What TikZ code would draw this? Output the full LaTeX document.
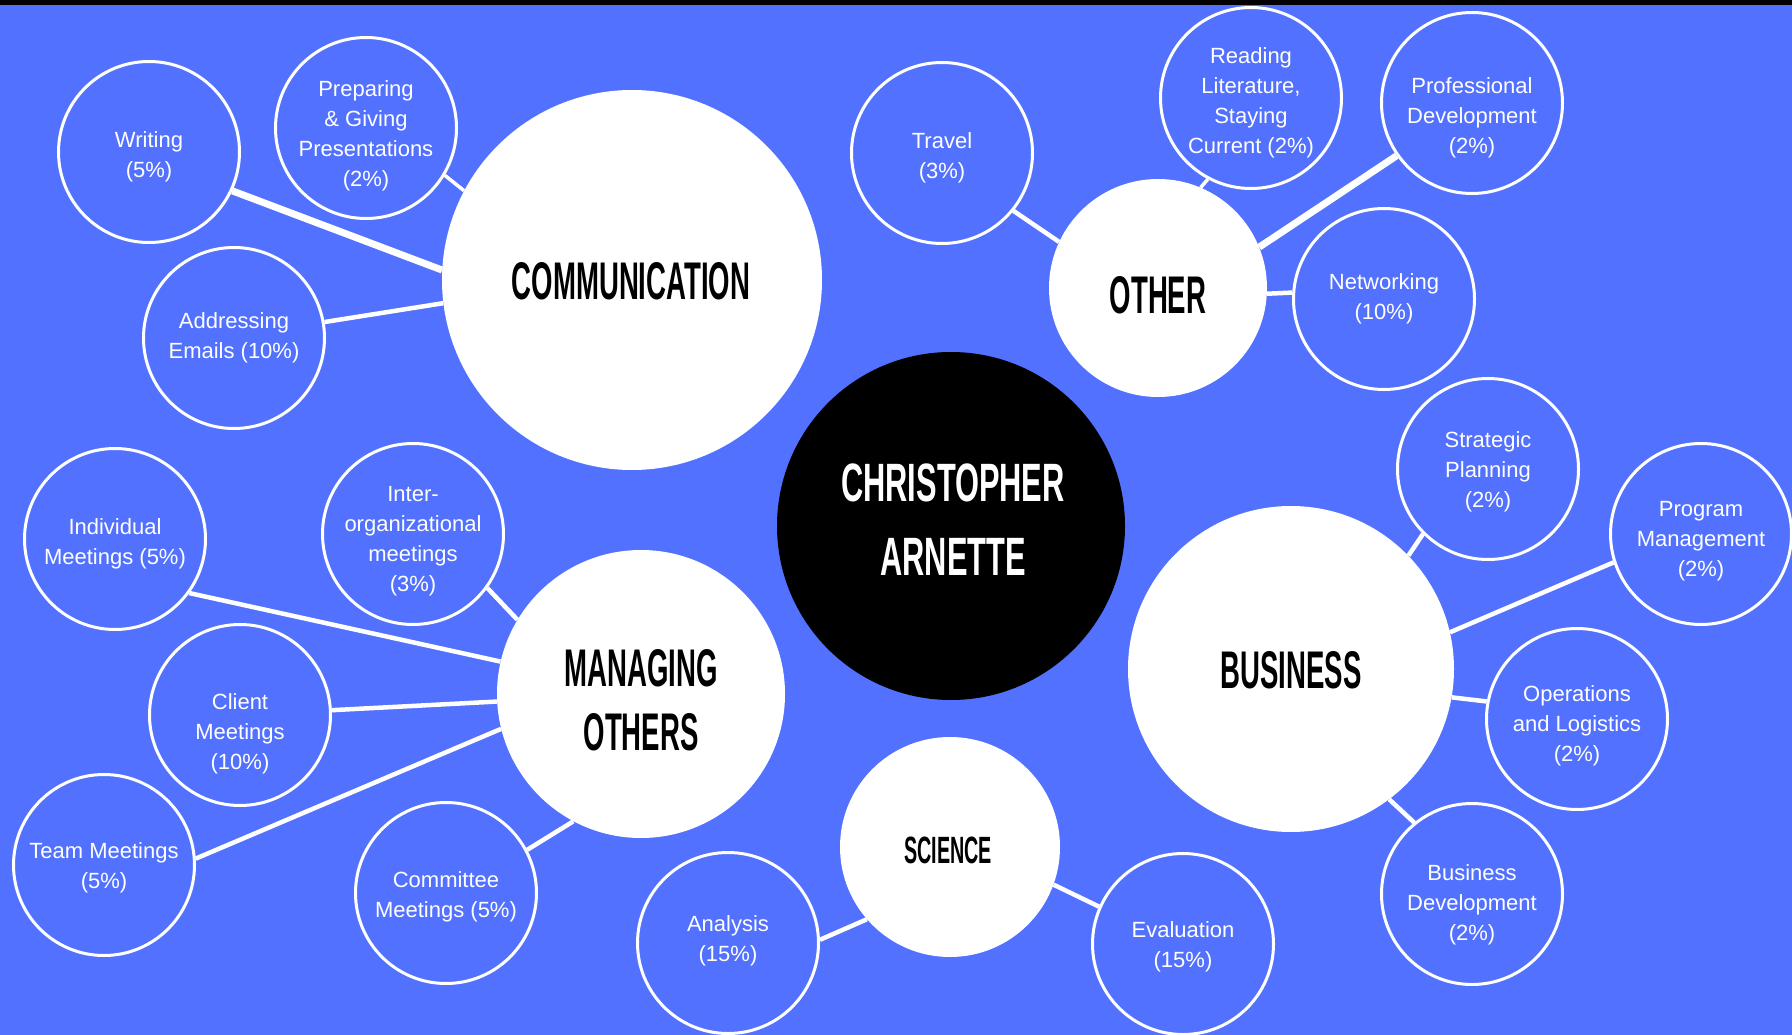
\documentclass[tikz,border=0pt]{standalone}
\usepackage{fontspec}
\setmainfont{Liberation Sans}
\newfontfamily\headfont[FakeStretch=0.52,BoldFont={Liberation Sans Bold}]{Liberation Sans}
\newfontfamily\namefont[FakeStretch=0.57,BoldFont={Liberation Sans Bold}]{Liberation Sans}
\definecolor{bgblue}{RGB}{82,113,255}
\pgfdeclarelayer{bg}
\pgfdeclarelayer{lines}
\pgfsetlayers{bg,lines,main}
\tikzset{
  small/.style={circle, draw=white, line width=3pt, fill=bgblue, minimum size=181pt, inner sep=0pt},
  smalltxt/.style={inner sep=0pt, align=center, text=white, font=\fontsize{22}{30}\selectfont},
  bigw/.style={circle, fill=white, inner sep=0pt},
  bigtxt/.style={inner sep=0pt, align=center, text=black,
    font=\headfont\bfseries\fontsize{53}{74}\selectfont},
  link/.style={draw=white, line width=4.5pt},
  thinlink/.style={draw=white, line width=3.5pt},
  thicklink/.style={draw=white, line width=7pt}
}
% #1 name, #2 position, #3 vertical text shift (down, px), #4 text
\newcommand\smallcirc[4]{%
  \node[small] (#1) at #2 {};
  \node[smalltxt] (#1-t) at ([yshift=-#3pt]#1.center) {#4};}
\begin{document}
\begin{tikzpicture}[x=1pt,y=-1pt]
\useasboundingbox (0,0) rectangle (1792,1035);
\begin{pgfonlayer}{bg}
\fill[bgblue] (0,0) rectangle (1792,1035);
\fill[black] (0,0) rectangle (1792,5);
\end{pgfonlayer}

% main circles
\node[bigw, minimum size=380pt] (comm) at (632,280) {};
\node[bigtxt] (comm-t) at (631,281) {COMMUNICATION};
\node[bigw, minimum size=218pt] (other) at (1158,288) {};
\node[bigtxt] (other-t) at (1158,295) {OTHER};
\node[bigw, minimum size=348pt, fill=black] (chris) at (951,526) {};
\node[bigtxt, text=white, font=\namefont\bfseries\fontsize{54}{74}\selectfont] (chris-t) at (953,520) {CHRISTOPHER\\ARNETTE};
\node[bigw, minimum size=288pt] (mo) at (641,694) {};
\node[bigtxt, font=\headfont\bfseries\fontsize{53}{64}\selectfont] (mo-t) at (641,700) {MANAGING\\OTHERS};
\node[bigw, minimum size=326pt] (bus) at (1291,669) {};
\node[bigtxt] (bus-t) at (1291,670) {BUSINESS};
\node[bigw, minimum size=220pt] (sci) at (950,847) {};
\node[bigtxt, font=\headfont\bfseries\fontsize{38}{48}\selectfont] (sci-t) at (948,850) {SCIENCE};

% small circles
\smallcirc{writing}{(149,152)}{5}{Writing\\(5\%)}
\smallcirc{prep}{(366,128)}{8}{Preparing\\\& Giving\\Presentations\\(2\%)}
\smallcirc{email}{(234,338)}{0}{Addressing\\Emails (10\%)}
\smallcirc{travel}{(942,153)}{5}{Travel\\(3\%)}
\smallcirc{read}{(1251,98)}{5}{Reading\\Literature,\\Staying\\Current (2\%)}
\smallcirc{prof}{(1472,103)}{15}{Professional\\Development\\(2\%)}
\smallcirc{net}{(1384,299)}{0}{Networking\\(10\%)}
\smallcirc{strat}{(1488,469)}{3}{Strategic\\Planning\\(2\%)}
\smallcirc{prog}{(1701,534)}{7}{Program\\Management\\(2\%)}
\smallcirc{ops}{(1577,719)}{7}{Operations\\and Logistics\\(2\%)}
\smallcirc{busdev}{(1472,894)}{11}{Business\\Development\\(2\%)}
\smallcirc{eval}{(1183,944)}{3}{Evaluation\\(15\%)}
\smallcirc{anal}{(728,943)}{-2}{Analysis\\(15\%)}
\smallcirc{comt}{(446,893)}{4}{Committee\\Meetings (5\%)}
\smallcirc{team}{(104,865)}{3}{Team Meetings\\(5\%)}
\smallcirc{client}{(240,715)}{19}{Client\\Meetings\\(10\%)}
\smallcirc{indiv}{(115,539)}{5}{Individual\\Meetings (5\%)}
\smallcirc{inter}{(413,534)}{7}{Inter-\\organizational\\meetings\\(3\%)}

% connectors
\begin{pgfonlayer}{lines}
\draw[thicklink] (writing.-25) -- (comm.177);
\draw[thinlink] (prep.-31) -- (comm.152);
\draw[link] (email.10) -- (comm.187);
\draw[link] (travel.-39) -- (other.155);
\draw[thinlink] (read.-118) -- (other.67);
\draw[thicklink] (prof.-145) -- (other.22);
\draw[link] (net.176) -- (other.-3);
\draw[link] (strat.-135) -- (bus.44);
\draw[link] (prog.-162) -- (bus.13.5);
\draw[link] (ops.169) -- (bus.-10);
\draw[link] (busdev.129) -- (bus.-53);
\draw[link] (eval.156) -- (sci.-20);
\draw[link] (anal.2) -- (sci.221);
\draw[link] (inter.-36) -- (mo.149);
\draw[link] (indiv.-36) -- (mo.167);
\draw[link] (client.3) -- (mo.183);
\draw[link] (team.4) -- (mo.194);
\draw[link] (comt.28) -- (mo.242);
\end{pgfonlayer}
\end{tikzpicture}
\end{document}
